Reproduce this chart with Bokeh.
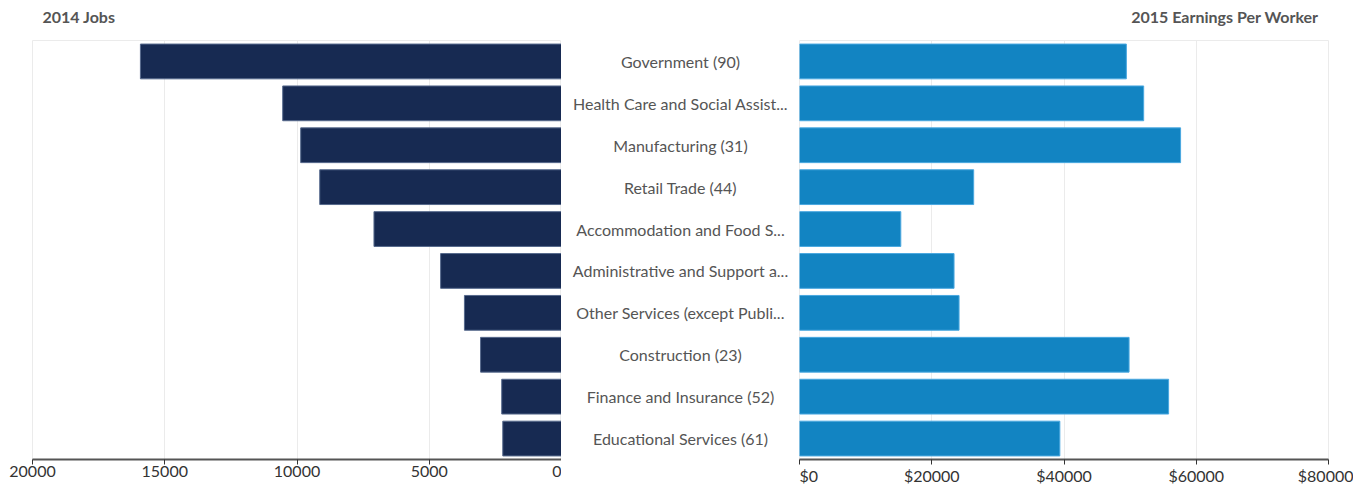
from bokeh.plotting import figure
from bokeh.layouts import row, column
from bokeh.models import Range1d, FactorRange, ColumnDataSource, PrintfTickFormatter, FixedTicker
from bokeh.core.properties import value
from bokeh.embed import file_html
from bokeh.resources import INLINE

industries = [
    "Government (90)",
    "Health Care and Social Assist...",
    "Manufacturing (31)",
    "Retail Trade (44)",
    "Accommodation and Food S...",
    "Administrative and Support a...",
    "Other Services (except Publi...",
    "Construction (23)",
    "Finance and Insurance (52)",
    "Educational Services (61)",
]
jobs_2014 = [15920, 10540, 9860, 9140, 7090, 4570, 3670, 3060, 2260, 2220]
earnings_2015 = [49430, 52050, 57630, 26340, 15320, 23370, 24130, 49840, 55820, 39370]
jobs_ticks = [0, 5000, 10000, 15000, 20000]
earn_ticks = [0, 20000, 40000, 60000, 80000]
titles = ["2014 Jobs", "2015 Earnings Per Worker"]

FONT = "Lato"
W_LEFT, W_CENTER, W_RIGHT = 561, 238, 554
W = W_LEFT + W_CENTER + W_RIGHT
TITLE_H = 30
H = 457
TOP = 10
BOT = 24
BAR_H = 0.83

src = ColumnDataSource(dict(cat=industries, jobs=jobs_2014, earn=earnings_2015))
y_range = FactorRange(factors=list(reversed(industries)), range_padding=0)

# title strip (pixel-scaled ranges)
head = figure(width=W, height=TITLE_H, x_range=Range1d(0, W), y_range=Range1d(0, TITLE_H),
              output_backend="svg", toolbar_location=None,
              min_border_left=0, min_border_right=0, min_border_top=0, min_border_bottom=0)
head.axis.visible = False
head.grid.visible = False
head.outline_line_color = None
head_src = ColumnDataSource(dict(x=[42, 1318], y=[TITLE_H - 16, TITLE_H - 16],
                                 t=titles, a=["left", "right"]))
head.text(x="x", y="y", text="t", text_align="a", source=head_src,
          text_baseline="middle", text_font=value(FONT), text_font_size="16px",
          text_font_style="bold", text_color="#555555")


def style(p, ticks):
    p.outline_line_color = "#ebebeb"
    p.outline_line_width = 1
    p.ygrid.visible = False
    p.yaxis.visible = False
    p.xgrid.grid_line_color = "#ebebeb"
    p.xgrid.grid_line_width = 1
    p.xaxis.ticker = FixedTicker(ticks=ticks)
    p.xaxis.axis_line_color = "#555555"
    p.xaxis.axis_line_width = 2
    p.xaxis.major_tick_line_color = "#333333"
    p.xaxis.major_tick_in = 0
    p.xaxis.major_tick_out = 5
    p.xaxis.minor_tick_line_color = None
    p.xaxis.major_label_standoff = 1
    p.xaxis.major_label_text_font = FONT
    p.xaxis.major_label_text_font_size = "16px"
    p.xaxis.major_label_text_color = "#333333"
    p.min_border_top = TOP
    p.min_border_bottom = BOT


left = figure(width=W_LEFT, height=H, x_range=Range1d(20000, 0), y_range=y_range,
              output_backend="svg", toolbar_location=None,
              min_border_left=32, min_border_right=0)
left.hbar(y="cat", left=0, right="jobs", height=BAR_H, source=src,
          fill_color="#172a52", line_color="#56698c", line_width=1)
style(left, jobs_ticks)

center = figure(width=W_CENTER, height=H, x_range=Range1d(0, 1), y_range=y_range,
                output_backend="svg", toolbar_location=None,
                min_border_left=0, min_border_right=0,
                min_border_top=TOP, min_border_bottom=BOT)
center.text(x=0.5, y="cat", text="cat", source=src, text_align="center",
            text_baseline="middle", text_font=value(FONT), text_font_size="16px",
            text_color="#555555")
center.axis.visible = False
center.grid.visible = False
center.outline_line_color = None

right = figure(width=W_RIGHT, height=H, x_range=Range1d(0, 80000), y_range=y_range,
               output_backend="svg", toolbar_location=None,
               min_border_left=0, min_border_right=25)
right.hbar(y="cat", left=0, right="earn", height=BAR_H, source=src,
           fill_color="#1284c2", line_color="#4aa8e0", line_width=1)
style(right, earn_ticks)
right.xaxis.formatter = PrintfTickFormatter(format="$%d")

layout = column(head, row(left, center, right, spacing=0), spacing=0)

open("out.html", "w").write(file_html(layout, INLINE))
